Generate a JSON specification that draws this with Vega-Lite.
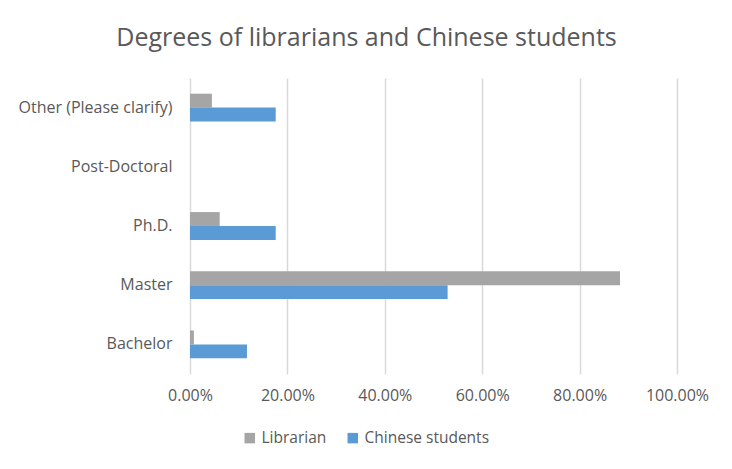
{
  "$schema": "https://vega.github.io/schema/vega-lite/v6.json",
  "width": 487,
  "height": 296,
  "autosize": {"type": "none"},
  "padding": {"left": 190, "top": 78, "right": 55, "bottom": 95},
  "background": "white",
  "title": {
    "text": "Degrees of librarians and Chinese students",
    "font": "Open Sans",
    "fontSize": 25,
    "fontWeight": "normal",
    "color": "#595959",
    "anchor": "middle",
    "dx": -67,
    "offset": 27
  },
  "data": {
    "values": [
      {"degree": "Bachelor", "group": "Librarian", "value": 0.008},
      {"degree": "Bachelor", "group": "Chinese students", "value": 0.117},
      {"degree": "Master", "group": "Librarian", "value": 0.883},
      {"degree": "Master", "group": "Chinese students", "value": 0.529},
      {"degree": "Ph.D.", "group": "Librarian", "value": 0.061},
      {"degree": "Ph.D.", "group": "Chinese students", "value": 0.176},
      {"degree": "Post-Doctoral", "group": "Librarian", "value": 0},
      {"degree": "Post-Doctoral", "group": "Chinese students", "value": 0},
      {"degree": "Other (Please clarify)", "group": "Librarian", "value": 0.045},
      {"degree": "Other (Please clarify)", "group": "Chinese students", "value": 0.176}
    ]
  },
  "mark": {"type": "bar"},
  "encoding": {
    "y": {
      "field": "degree",
      "type": "nominal",
      "sort": ["Other (Please clarify)", "Post-Doctoral", "Ph.D.", "Master", "Bachelor"],
      "scale": {"paddingInner": 0.53, "paddingOuter": 0.265},
      "axis": {
        "title": null,
        "domain": false,
        "ticks": false,
        "labelFont": "Open Sans",
        "labelFontSize": 16,
        "labelColor": "#595959",
        "labelPadding": 18
      }
    },
    "yOffset": {
      "field": "group",
      "type": "nominal",
      "sort": ["Librarian", "Chinese students"],
      "scale": {"paddingInner": 0, "paddingOuter": 0}
    },
    "x": {
      "field": "value",
      "type": "quantitative",
      "scale": {"domain": [0, 1], "nice": false},
      "axis": {
        "title": null,
        "format": ".2%",
        "values": [0, 0.2, 0.4, 0.6, 0.8, 1],
        "domain": false,
        "ticks": false,
        "grid": true,
        "gridColor": "#D9D9D9",
        "gridWidth": 1.5,
        "labelFlush": false,
        "labelOverlap": false,
        "labelFont": "Open Sans",
        "labelFontSize": 16,
        "labelColor": "#595959",
        "labelPadding": 13
      }
    },
    "color": {
      "field": "group",
      "type": "nominal",
      "sort": ["Librarian", "Chinese students"],
      "scale": {"domain": ["Librarian", "Chinese students"], "range": ["#A5A5A5", "#5B9BD5"]},
      "legend": {
        "title": null,
        "orient": "none",
        "direction": "horizontal",
        "legendX": 52,
        "legendY": 352,
        "symbolType": "square",
        "symbolSize": 110,
        "symbolStrokeWidth": 0,
        "labelFont": "Open Sans",
        "labelFontSize": 15.5,
        "labelColor": "#595959",
        "columnPadding": 18,
        "labelOffset": 4
      }
    }
  },
  "config": {"view": {"stroke": null}}
}
